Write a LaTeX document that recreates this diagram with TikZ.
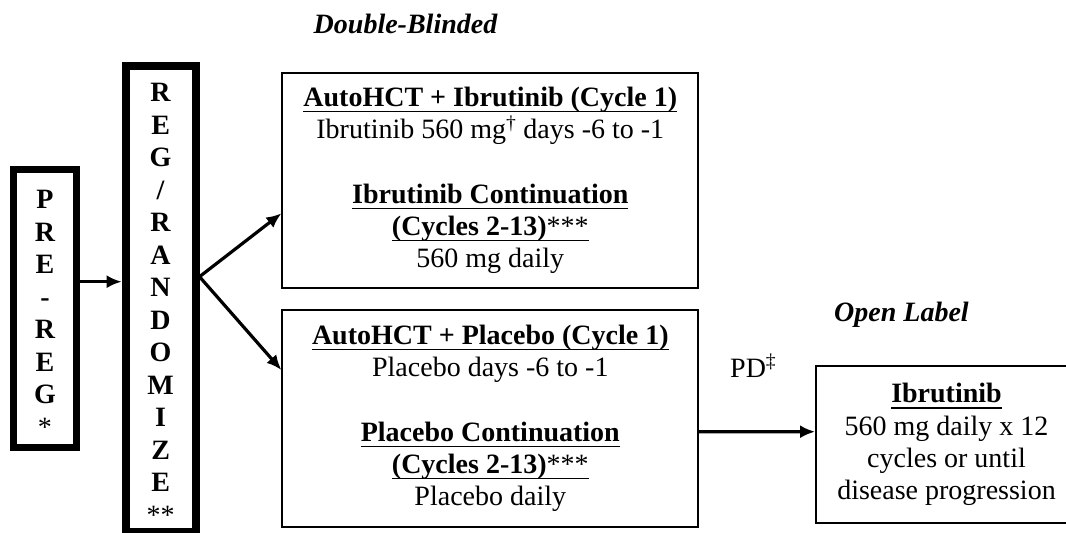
\documentclass[tikz,border=0pt]{standalone}
\usepackage{fontspec}
\setmainfont{Liberation Serif}
\usetikzlibrary{arrows.meta}
% underline drawn as a rule of fixed depth and thickness
\newsavebox\ulinebox
\newcommand\ulined[1]{\sbox\ulinebox{#1}\rlap{\rule[-6pt]{\wd\ulinebox}{1.6pt}}\usebox\ulinebox}
\begin{document}
\begin{tikzpicture}[x=1pt,y=-1pt,
  txt/.style={font=\fontsize{28}{32.3}\selectfont, align=center, inner sep=0pt},
  thick box/.style={draw, line width=7.8pt, inner sep=0pt},
  letters/.style={txt, font=\fontsize{28}{32.5}\selectfont\bfseries},
  armbox/.style={draw, line width=1.8pt, txt},
  arr/.style={line width=3.2pt, -{Latex[length=15pt,width=13pt]}},
  phase/.style={font=\fontsize{28}{32.3}\selectfont\bfseries\itshape, inner sep=0pt, anchor=base}]

\useasboundingbox (0,0) rectangle (1066,533);

% registration steps, lettered vertically
\node[thick box, line width=7.5pt, minimum width=62.6pt, minimum height=278pt] (prereg) at (45,308.5) {};
\node[letters] (prereg text) at ([yshift=-5pt]prereg.center) {P\\R\\E\\-\\R\\E\\G\\\textmd{*}};
\node[thick box, line width=8pt, minimum width=69.8pt, minimum height=466pt] (reg) at (160.6,299) {};
\node[letters] (reg text) at ([yshift=-5pt]reg.center)
  {R\\E\\G\\/\\R\\A\\N\\D\\O\\M\\I\\Z\\E\\\textmd{**}};

% randomised arms
\node[armbox, minimum width=416pt, minimum height=215.3pt] (armA) at (490.3,180.35)
  {\textbf{\ulined{AutoHCT + Ibrutinib (Cycle 1)}}\\
   Ibrutinib 560 mg\textsuperscript{†} days -6 to -1\\[32.3pt]
   \textbf{\ulined{Ibrutinib Continuation}}\\
   \textbf{\ulined{(Cycles 2-13)\textmd{***}}}\\
   560 mg daily};
\node[armbox, minimum width=416pt, minimum height=216.7pt] (armB) at (490.3,418.35)
  {\textbf{\ulined{AutoHCT + Placebo (Cycle 1)}}\\
   Placebo days -6 to -1\\[32.3pt]
   \textbf{\ulined{Placebo Continuation}}\\
   \textbf{\ulined{(Cycles 2-13)\textmd{***}}}\\
   Placebo daily};

% open-label crossover
\node[armbox, minimum width=261pt, minimum height=157pt] (open) at (946.5,444.5)
  {\textbf{\ulined{Ibrutinib}}\\
   560 mg daily x 12\\
   cycles or until\\
   disease progression};

% phase labels
\node[phase] (dbl) at (405.5,33) {Double-Blinded};
\node[phase] (olab) at (901.5,321.7) {Open Label};
\node[txt, anchor=base west] (pd) at (730,377) {PD\textsuperscript{‡}};

% connectors
\draw[arr] ([yshift=26.8pt]prereg.east) -- ([yshift=17.3pt]reg.west);
\draw[arr] ([yshift=22.3pt]reg.east) -- ([yshift=-33pt]armA.west);
\draw[arr] ([yshift=22.3pt]reg.east) -- ([yshift=48.35pt]armB.west);
\draw[arr] ([yshift=-13.35pt]armB.east) -- ([yshift=12.8pt]open.west);
\end{tikzpicture}
\end{document}
